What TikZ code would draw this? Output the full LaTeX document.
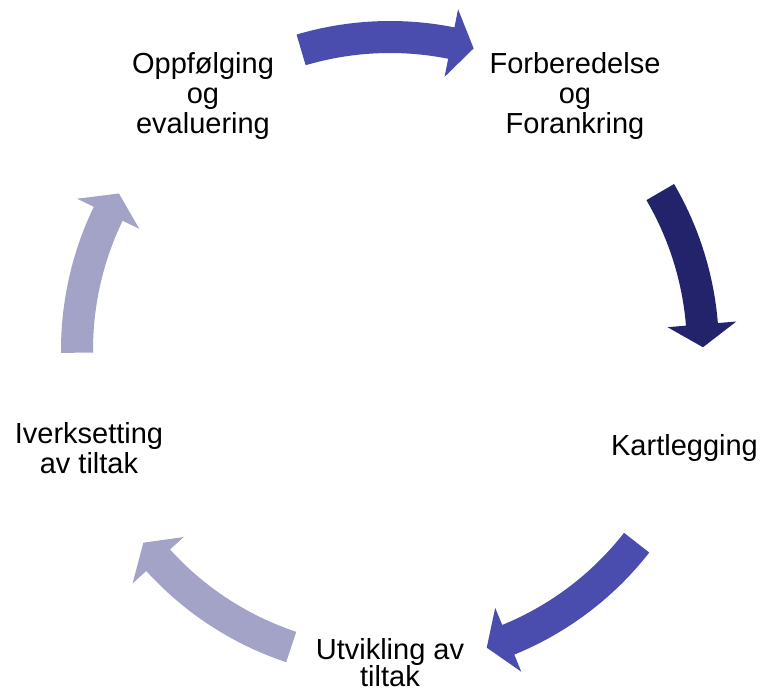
\documentclass[tikz,border=0pt]{standalone}
\usepackage{fontspec}
\setmainfont{Liberation Sans}
\definecolor{midblue}{HTML}{4B4DAE}
\definecolor{darkblue}{HTML}{23236C}
\definecolor{lightblue}{HTML}{A3A3C8}

\begin{document}
\begin{tikzpicture}[steptext/.style={align=center, inner sep=0pt, font=\fontsize{16.5}{17.2}\selectfont}]
                \useasboundingbox (-7.8,-6.8) rectangle (7.46,7.0);
                \node[steptext] (forb) at (3.7,5.08) {Forberedelse\\og\\Forankring};
                \node[steptext] (kart) at (5.89,-1.96) {Kartlegging};
                \node[steptext, font=\fontsize{16.5}{15.5}\selectfont] (utv) at (0,-6.25) {Utvikling av\\tiltak};
                \node[steptext] (iverk) at (-6.02,-1.96) {Iverksetting\\av tiltak};
                \node[steptext] (oppf) at (-3.74,5.08) {Oppfølging\\og\\evaluering};
                \foreach \a/\b/\c in {106.5/74.5/midblue, 30.3/0.5/darkblue, -38/-72/midblue, -108.4/-142/lightblue, 180.5/150/lightblue} {
                    \pgfmathsetmacro{\h}{\b+4.2}
                    \fill[\c] (\a:6.58) arc[start angle=\a, end angle=\h, radius=6.58] -- (\h:6.95) -- (\b:6.26)
                        -- (\h:5.57) -- (\h:5.94) arc[start angle=\h, end angle=\a, radius=5.94] -- cycle;
                }
                \end{tikzpicture}
\end{document}
